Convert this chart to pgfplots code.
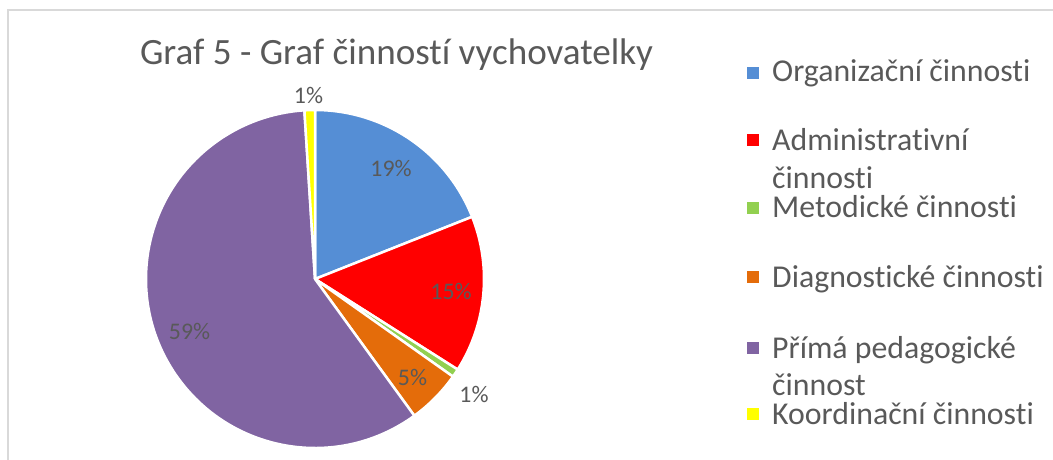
\documentclass[border=0pt]{standalone}
\usepackage{pgfplots}
\usepackage{pgfplotstable}
\pgfplotsset{compat=1.18}
\usepackage{fontspec}
\setmainfont{Carlito}[Ligatures={NoCommon,NoContextual}]
\definecolor{cOrg}{HTML}{558ED5}
\definecolor{cAdm}{HTML}{FF0000}
\definecolor{cMet}{HTML}{92D050}
\definecolor{cDia}{HTML}{E46C0A}
\definecolor{cPri}{HTML}{8064A2}
\definecolor{cKoo}{HTML}{FFFF00}
\definecolor{txt}{HTML}{595959}
\definecolor{frame}{HTML}{D9D9D9}

% share of each activity (percent), in clockwise order from 12 o'clock
\pgfplotstableread{
label value color
Org 19.0 cOrg
Adm 15.0 cAdm
Met 0.8 cMet
Dia 5.2 cDia
Pri 59.0 cPri
Koo 1.0 cKoo
}\piedata

\begin{document}
\begin{tikzpicture}
\useasboundingbox (0,0) rectangle (1053bp,460bp);
\begin{axis}[scale only axis, width=1053bp, height=460bp,
  xmin=0, xmax=1053, ymin=0, ymax=460, hide axis, clip=false]
\pgfplotsextra{
  \gdef\cumang{90}
  \foreach \i in {0,...,5}{
    \pgfplotstablegetelem{\i}{value}\of\piedata
    \pgfmathsetmacro\sliceval{\pgfplotsretval}
    \pgfplotstablegetelem{\i}{color}\of\piedata
    \edef\slicecol{\pgfplotsretval}
    \pgfmathsetmacro\endang{\cumang-3.6*\sliceval}
    \fill[fill=\slicecol, draw=white, line width=2.5bp, line join=miter]
      (axis cs:315,181) -- ++(\cumang:169bp)
      arc[start angle=\cumang, end angle=\endang, radius=169bp] -- cycle;
    \xdef\cumang{\endang}
  }
}
% frame
\draw[frame, line width=2bp] (axis cs:7.5,0) -- (axis cs:7.5,450) -- (axis cs:1053,450);
% title
\node[anchor=base, text=txt, inner sep=0, font=\fontsize{37.1bp}{44bp}\selectfont]
  at (axis cs:396.5,395) {Graf 5 - Graf činností vychovatelky};
% data labels
\begin{scope}[every node/.style={anchor=base, text=txt, inner sep=0, font=\fontsize{23.8bp}{28bp}\selectfont}]
\node at (axis cs:391,284) {19\%};
\node at (axis cs:451,161) {15\%};
\node at (axis cs:412.5,75) {5\%};
\node at (axis cs:474,58) {1\%};
\node at (axis cs:308.5,357) {1\%};
\node at (axis cs:189.5,121) {59\%};
\end{scope}
% legend
\begin{scope}[every node/.style={anchor=base west, text=txt, inner sep=0, font=\fontsize{31.8bp}{38bp}\selectfont}]
\fill[cOrg] (axis cs:747,381) rectangle (axis cs:759,393);
\fill[cAdm] (axis cs:747,314) rectangle (axis cs:759,326);
\fill[cMet] (axis cs:747,245.5) rectangle (axis cs:759,257.5);
\fill[cDia] (axis cs:747,176.5) rectangle (axis cs:759,188.5);
\fill[cPri] (axis cs:747,106) rectangle (axis cs:759,118);
\fill[cKoo] (axis cs:747,40) rectangle (axis cs:759,52);
\node at (axis cs:772,379) {Organizační činnosti};
\node at (axis cs:772,310) {Administrativní};
\node at (axis cs:772,272) {činnosti};
\node at (axis cs:772,243) {Metodické činnosti};
\node at (axis cs:772,173) {Diagnostické činnosti};
\node at (axis cs:772,102) {Přímá pedagogické};
\node at (axis cs:772,65) {činnost};
\node at (axis cs:772,36) {Koordinační činnosti};
\end{scope}
\end{axis}
\end{tikzpicture}
\end{document}
